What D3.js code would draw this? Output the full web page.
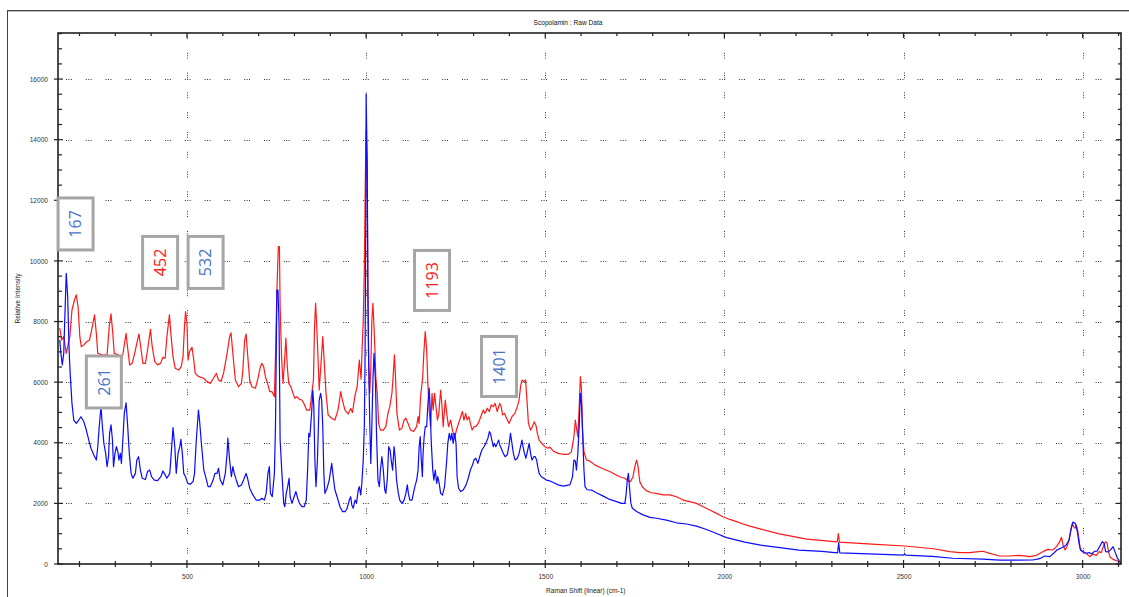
<!DOCTYPE html>
<html>
<head>
<meta charset="utf-8">
<script src="https://cdn.jsdelivr.net/npm/d3@7"></script>
<style>
  body { margin: 0; background: #fff; }
  svg { display: block; }
</style>
</head>
<body>
<svg id="chart" width="1129" height="597"></svg>
<script>
// Scopolamin Raman spectra (raw data), two measurements
const redShift = [145,150,156,163,173,179,186,191,196,201,205,212,221,228,235,242,247,251,263,277,283,288,293,297,309,319,323,330,334,340,347,354,360,366,372,377,384,390,398,403,410,418,426,433,439,444,451,455,461,467,477,484,489,493,496,500,503,507,514,519,523,533,547,556,565,574,582,588,595,602,612,619,623,628,635,644,652,656,661,665,669,675,681,691,697,705,709,714,719,725,731,737,744,747,751,755,758,760,764,768,772,776,780,784,790,796,801,807,814,821,827,834,843,848,853,856,859,862,866,869,874,879,882,888,894,904,913,922,929,934,941,950,957,962,969,975,981,986,989,992,995,998,1000,1003,1005,1007,1010,1013,1016,1019,1022,1025,1027,1031,1035,1040,1048,1055,1061,1066,1072,1076,1079,1082,1086,1093,1100,1106,1111,1117,1124,1132,1141,1145,1148,1152,1158,1161,1165,1169,1172,1176,1180,1184,1187,1191,1195,1199,1203,1208,1212,1215,1221,1225,1230,1236,1241,1247,1252,1258,1264,1269,1273,1278,1282,1287,1291,1296,1301,1306,1313,1320,1327,1332,1338,1344,1349,1355,1360,1366,1370,1373,1377,1381,1386,1392,1399,1407,1415,1422,1427,1431,1435,1440,1445,1449,1453,1459,1464,1469,1474,1478,1483,1490,1499,1508,1513,1522,1536,1550,1564,1573,1580,1584,1587,1591,1595,1598,1601,1604,1608,1615,1624,1638,1652,1666,1680,1694,1708,1722,1731,1738,1745,1750,1755,1759,1764,1771,1782,1796,1810,1829,1848,1866,1885,1903,1922,1941,1959,1978,1996,2015,2034,2052,2071,2099,2150,2230,2315,2318,2321,2423,2503,2584,2629,2657,2685,2703,2722,2741,2768,2796,2824,2852,2871,2889,2903,2917,2927,2936,2941,2945,2951,2956,2962,2967,2971,2975,2979,2982,2986,2990,2993,2999,3006,3012,3020,3029,3038,3046,3052,3059,3064,3068,3072,3077,3085,3094,3103,3108];
const redIntensity = [7780,7390,7500,6950,7500,8380,8710,8880,8490,7500,7170,7230,7340,7390,7780,8220,7610,6950,6900,6900,7830,8250,7610,6950,6900,6790,7060,7610,7170,6570,6620,6950,7280,7590,7060,6620,6620,7060,7740,7170,6680,6570,6620,6820,6790,7500,8220,7610,6840,6460,6400,6510,6840,7830,8330,7940,6730,7010,7150,6730,6290,6180,6130,6020,5960,6130,6290,6070,6020,6290,6950,7500,7630,6950,6070,5850,5960,6400,7390,7590,6950,6070,5850,5800,6070,6510,6620,6510,6180,5960,5690,5690,5520,6840,9040,10470,10470,8490,6840,5960,6620,7450,6510,5960,5850,5630,5470,5520,5430,5410,5280,5080,5080,5600,6070,7830,8600,7900,6730,5740,6600,7500,6900,5630,4920,4810,4750,5100,5690,5400,5080,4950,5130,5000,5560,5850,6730,6100,7170,8050,9700,12840,14300,12780,8930,6730,5630,6400,8050,8600,7830,6950,6180,5630,4640,4420,4420,4530,4970,5190,5630,6290,6900,6180,4970,4420,4480,4750,4810,4640,4420,4370,4530,4860,4640,5520,6180,6950,7670,7060,6070,5080,4530,5630,5080,5630,5190,4750,4970,5740,5190,4530,5410,4970,4530,4750,4420,4150,4420,4640,4860,5030,4750,4970,4750,4860,4640,4420,4530,4530,4640,4860,5080,4970,5140,5030,5250,5190,5300,5030,5190,5300,5190,4920,4970,4810,4640,4860,4970,5190,5410,5850,6070,6020,6070,5410,4640,4420,4530,4690,4580,4310,4090,3980,3870,3820,3860,3730,3650,3620,3620,3700,4200,4750,4500,4200,5250,6180,5800,4420,3700,3430,3400,3270,3190,3120,3050,2960,2880,2830,2750,2720,2880,3210,3430,3210,2710,2550,2420,2350,2330,2280,2280,2220,2110,2060,2000,1890,1780,1670,1560,1470,1400,1320,1250,1160,1000,818,728,1000,720,650,594,504,410,374,374,400,420,350,264,264,286,242,286,407,484,462,572,737,880,627,462,572,792,1122,1342,1232,1180,1287,1100,792,517,407,374,330,242,330,286,407,374,627,737,700,407,220,154,110,77,22];

const blueShift = [145,148,152,156,160,163,167,171,174,179,184,191,198,204,212,219,226,232,240,247,251,255,260,264,268,273,277,281,284,288,292,295,299,303,307,310,314,317,321,325,330,334,339,344,349,356,360,365,370,375,384,390,396,401,409,418,427,433,439,444,452,456,461,466,470,475,480,483,487,491,496,502,509,517,521,526,532,535,541,547,552,559,565,573,578,584,588,593,600,607,612,614,619,624,628,632,637,644,652,658,665,669,675,684,693,703,709,716,721,726,730,733,738,744,747,751,754,757,760,765,770,773,777,781,785,788,793,799,804,809,814,821,827,833,837,840,843,848,851,854,857,860,864,869,873,876,879,882,885,891,897,904,908,913,919,927,934,942,947,953,957,960,964,969,973,978,981,985,988,992,995,997,999,1000,1003,1005,1007,1010,1013,1016,1019,1022,1026,1029,1033,1037,1040,1044,1048,1052,1055,1059,1063,1067,1070,1074,1078,1081,1085,1090,1094,1100,1106,1111,1115,1118,1122,1128,1132,1136,1141,1145,1148,1151,1154,1157,1159,1162,1165,1169,1172,1176,1179,1182,1186,1189,1193,1197,1200,1204,1208,1213,1219,1225,1228,1232,1236,1239,1243,1247,1251,1254,1258,1264,1271,1279,1285,1291,1297,1301,1306,1312,1317,1323,1329,1334,1340,1344,1347,1351,1355,1358,1362,1366,1370,1373,1377,1383,1388,1394,1399,1403,1407,1411,1416,1422,1427,1431,1435,1438,1442,1446,1451,1455,1459,1463,1468,1472,1476,1479,1483,1489,1496,1503,1513,1524,1536,1550,1564,1569,1573,1576,1580,1584,1587,1591,1595,1598,1601,1604,1608,1611,1617,1629,1643,1662,1680,1699,1713,1722,1725,1729,1732,1736,1739,1743,1755,1773,1792,1810,1838,1866,1894,1922,1950,1980,2004,2057,2101,2155,2208,2272,2316,2319,2322,2423,2500,2503,2506,2580,2637,2722,2768,2815,2861,2880,2894,2908,2919,2928,2938,2947,2954,2962,2967,2973,2979,2982,2986,2990,2994,3001,3010,3018,3025,3033,3040,3047,3055,3060,3064,3072,3079,3085,3090,3096,3103,3109];
const blueIntensity = [7390,6950,6570,6950,8490,9590,8820,7060,6290,5300,4750,4640,4750,4860,4700,4420,4090,3820,3600,3430,3870,4530,5190,4530,3980,3650,3210,3540,4310,4590,4090,3210,3650,3870,3710,3430,3650,3320,4090,4970,5320,4640,3650,2990,2830,2990,3430,3540,3100,2830,2790,3050,3100,2880,2770,2750,2880,3070,2940,2830,2990,3650,4500,3870,2990,3650,3870,4110,3650,2990,2880,2660,2630,2720,2990,4090,5080,4750,3870,3100,2880,2550,2550,2770,2990,2990,3160,2770,2610,2990,3650,4150,3430,2880,3210,2990,2790,2550,2610,2770,2990,2830,2500,2280,2110,2110,2170,2110,2330,2990,3210,2330,2220,2990,4530,9040,9040,7940,4090,2990,2000,1890,2330,2550,2830,2220,2000,2220,2390,2170,2000,1890,1890,2110,3210,4310,4200,5000,5740,5200,3430,2550,3400,5410,5630,5400,4530,2990,2330,2500,2770,3320,2900,2440,2220,1890,1730,1730,1840,2110,2220,1950,1840,2110,2000,2440,2550,2280,2660,3430,4530,6730,11130,15500,13330,8930,6730,4750,3320,4530,6070,6950,6070,4310,2770,2550,3100,3540,3100,2440,2330,2770,3870,3760,3430,3100,3870,3540,2770,2330,2110,2000,2110,2330,2610,2330,2110,2110,2330,2550,2770,3100,3870,4200,3430,2880,3650,4200,4530,4530,5190,5800,5080,3980,3100,2770,3100,2660,2880,2660,2330,2270,2550,3430,3980,4310,4090,4310,3980,4310,3980,2880,2500,2390,2440,2610,2830,3100,3270,3430,3490,3320,3540,3760,3870,3980,4150,4370,4310,4090,3870,3980,3870,3980,4090,3930,3820,3650,3540,3600,3920,4310,3980,3650,3430,3490,3650,3870,4090,3870,3650,3490,3760,3980,3650,3430,3540,3540,3430,3210,2990,2880,2830,2770,2740,2680,2610,2570,2600,2620,2760,2880,3430,3400,3100,3650,4640,5630,5300,4420,3100,2550,2450,2440,2350,2240,2130,2060,2000,2000,2220,2770,2990,2400,2000,1840,1730,1620,1540,1510,1450,1360,1320,1250,1140,1000,880,720,620,538,460,415,370,700,370,325,292,330,290,250,190,160,130,130,132,176,264,242,352,462,517,572,627,792,1122,1386,1342,1250,1012,682,462,407,352,380,330,418,420,572,737,680,407,400,484,572,407,220,77,44];

// Axis ticks and labels
const xMajorTicks = [500, 1000, 1500, 2000, 2500, 3000];
const yMajorTicks = [0, 2000, 4000, 6000, 8000, 10000, 12000, 14000, 16000];

// Boxed peak annotations (wavenumber / intensity of the box centre)
const peakLabels = ["167", "261", "452", "532", "1193", "1401"];
const peakLabelShift = [189, 268, 425, 552, 1184, 1371];
const peakLabelLevel = [11220, 6006, 9950, 9950, 9356, 6517];
const peakLabelSeries = ["blue", "blue", "red", "blue", "red", "blue"];

const svg = d3.select("#chart");
const W = 1129, H = 597;
const plot = { left: 58, right: 1121, top: 33, bottom: 564 };

const x = d3.scaleLinear().domain([140, 3107]).range([plot.left, plot.right]);
const y = d3.scaleLinear().domain([0, 17520]).range([plot.bottom, plot.top]);

const font = "'Liberation Sans', Arial, sans-serif";
const smallSize = 6.6;
const axisInk = "#222";

// outer frame of the chart window
svg.append("line").attr("x1", 7).attr("x2", W).attr("y1", 10.5).attr("y2", 10.5)
  .attr("stroke", "#444").attr("stroke-width", 1);
svg.append("line").attr("x1", 7).attr("x2", W).attr("y1", 11.5).attr("y2", 11.5)
  .attr("stroke", "#bbb").attr("stroke-width", 1);
svg.append("line").attr("x1", 7.5).attr("x2", 7.5).attr("y1", 10).attr("y2", H)
  .attr("stroke", "#444").attr("stroke-width", 1);

// title
svg.append("text").attr("x", 568).attr("y", 25)
  .attr("text-anchor", "middle").attr("font-family", font).attr("font-size", smallSize)
  .attr("fill", "#111").text("Scopolamin : Raw Data");

// dotted grid
const gridDash = "1,1.4,1,1.4,1,14";
svg.append("g").selectAll("line").data(xMajorTicks).join("line")
  .attr("x1", d => Math.round(x(d)) + 0.5).attr("x2", d => Math.round(x(d)) + 0.5)
  .attr("y1", plot.top).attr("y2", plot.bottom)
  .attr("stroke", "#333").attr("stroke-width", 1).attr("stroke-dasharray", gridDash);
svg.append("g").selectAll("line").data(yMajorTicks.filter(d => d > 0)).join("line")
  .attr("x1", plot.left + 8).attr("x2", plot.right)
  .attr("y1", d => Math.round(y(d)) + 0.5).attr("y2", d => Math.round(y(d)) + 0.5)
  .attr("stroke", "#333").attr("stroke-width", 1).attr("stroke-dasharray", gridDash);

// spectra
svg.append("clipPath").attr("id", "plotclip").append("rect")
  .attr("x", plot.left).attr("y", plot.top)
  .attr("width", plot.right - plot.left).attr("height", plot.bottom - plot.top);

const line = d3.line().x(d => x(d[0])).y(d => y(d[1]));
const redPts = redShift.map((s, i) => [s, redIntensity[i]]);
const bluePts = blueShift.map((s, i) => [s, blueIntensity[i]]);

svg.append("path").datum(redPts).attr("d", line)
  .attr("clip-path", "url(#plotclip)")
  .attr("fill", "none").attr("stroke", "#ff1a1a").attr("stroke-width", 1.2)
  .attr("stroke-linejoin", "round");
svg.append("path").datum(bluePts).attr("d", line)
  .attr("clip-path", "url(#plotclip)")
  .attr("fill", "none").attr("stroke", "#0a0aff").attr("stroke-width", 1.2)
  .attr("stroke-linejoin", "round");

// plot frame
svg.append("rect").attr("x", plot.left).attr("y", plot.top)
  .attr("width", plot.right - plot.left).attr("height", plot.bottom - plot.top)
  .attr("fill", "none").attr("stroke", axisInk).attr("stroke-width", 1.6);

// tick marks on all four sides
const xMinor = d3.range(200, 3101, 100);
const yMinor = d3.range(0, 17501, 500);
const ticks = svg.append("g").attr("stroke", axisInk).attr("stroke-width", 1.2);
// bottom: crossing the axis
ticks.selectAll(".tb").data(xMinor).join("line")
  .attr("x1", d => x(d)).attr("x2", d => x(d))
  .attr("y1", d => plot.bottom - (d % 500 === 0 ? 4 : 3))
  .attr("y2", d => plot.bottom + (d % 500 === 0 ? 4 : 3));
// top: pointing inward
ticks.selectAll(".tt").data(xMinor).join("line")
  .attr("x1", d => x(d)).attr("x2", d => x(d))
  .attr("y1", plot.top).attr("y2", d => plot.top + (d % 500 === 0 ? 5 : 3));
// left
ticks.selectAll(".tl").data(yMinor).join("line")
  .attr("y1", d => y(d)).attr("y2", d => y(d))
  .attr("x1", d => plot.left - (d % 2000 === 0 ? 4 : 0))
  .attr("x2", d => plot.left + (d % 2000 === 0 ? 5 : 4));
// right: pointing inward
ticks.selectAll(".tr").data(yMinor).join("line")
  .attr("y1", d => y(d)).attr("y2", d => y(d))
  .attr("x1", plot.right).attr("x2", d => plot.right - (d % 2000 === 0 ? 5 : 3));

// tick labels through d3 axes
const xAxis = svg.append("g").attr("transform", `translate(0,${plot.bottom})`)
  .call(d3.axisBottom(x).tickValues(xMajorTicks).tickSize(0).tickPadding(10).tickFormat(d3.format("d")));
const yAxis = svg.append("g").attr("transform", `translate(${plot.left},0)`)
  .call(d3.axisLeft(y).tickValues(yMajorTicks).tickSize(0).tickPadding(10).tickFormat(d3.format("d")));
[xAxis, yAxis].forEach(g => {
  g.select(".domain").remove();
  g.selectAll("text").attr("font-family", font).attr("font-size", smallSize).attr("fill", "#333");
});

// axis titles
svg.append("text").attr("transform", `translate(20,${(plot.top + plot.bottom) / 2}) rotate(-90)`)
  .attr("text-anchor", "middle").attr("font-family", font).attr("font-size", smallSize)
  .attr("fill", "#222").text("Relative Intensity");
svg.append("text").attr("x", 546).attr("y", 593)
  .attr("font-family", font).attr("font-size", smallSize)
  .attr("fill", "#222").text("Raman Shift (linear) (cm-1)");

// boxed peak labels
const labelColor = { blue: "#4a72c8", red: "#ff2020" };
const ann = svg.append("g").selectAll("g").data(peakLabels).join("g")
  .attr("transform", (d, i) => `translate(${x(peakLabelShift[i])},${y(peakLabelLevel[i])})`);
ann.append("rect")
  .attr("x", -17.5).attr("width", 35)
  .attr("y", d => d.length > 3 ? -30 : -26).attr("height", d => d.length > 3 ? 60 : 52)
  .attr("fill", "#fff").attr("stroke", "#a6a6a6").attr("stroke-width", 3);
ann.append("text")
  .attr("transform", "rotate(-90)")
  .attr("text-anchor", "middle").attr("dy", "0.36em")
  .attr("font-family", "'Open Sans', 'Liberation Sans', sans-serif").attr("font-size", 16)
  .attr("fill", (d, i) => labelColor[peakLabelSeries[i]])
  .text(d => d);
</script>
</body>
</html>
